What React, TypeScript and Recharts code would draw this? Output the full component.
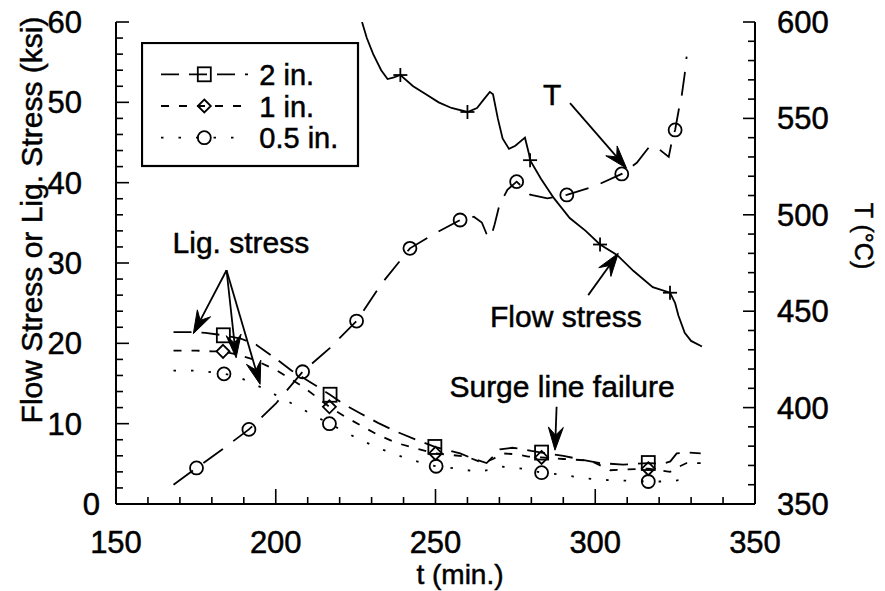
import React from 'react';
import { ComposedChart, Line, XAxis, YAxis, ReferenceLine, ReferenceDot, Legend } from 'recharts';

const FONT = '"Liberation Sans", Arial, Helvetica, sans-serif';

// ---- Flow stress (ksi) vs t (min.) ----
const flowTime = [227, 228.5, 230.5, 233, 235, 237, 239, 243, 247, 251, 255, 260, 263, 265, 267, 268, 269.5, 271, 273, 275, 278, 279.3, 279.6, 283, 287, 292, 297, 301.5, 306.8, 312, 318, 323.4, 325, 326, 328, 330, 333.4];
const flowStress = [60, 58, 56, 54, 52.9, 53.1, 53.4, 52, 51, 50, 49.3, 48.8, 49.3, 50.3, 51.3, 51, 48, 45.5, 44.2, 44.6, 45.6, 43.5, 42.8, 40.5, 38.1, 35.6, 34, 32.3, 31, 29, 27, 26.3, 25, 23.5, 21.3, 20.3, 19.6];
const flowMarkerTimes = [239, 260, 279.6, 301.5, 323.4];

// ---- Temperature T (°C) vs t ----
const tempTime = [168, 175.2, 183, 191.6, 200, 208.4, 217, 225.3, 233, 242, 250, 257.7, 262, 264.5, 266, 267.3, 268.5, 270, 272.5, 275.4, 279.6, 285, 291.1, 300, 308.3, 313, 317.1, 320, 323, 324.2, 325, 326.2, 327, 328, 328.6];
const tempC = [360, 368.7, 378, 388.7, 402, 418.6, 431, 444.9, 464, 482.6, 490.5, 497.3, 499, 496, 490, 488, 495, 505, 513, 517.2, 510.5, 508.5, 510.3, 515, 521.2, 527, 535.7, 534, 530, 540, 544, 555, 561, 573, 582];
const tempMarkerTimes = [175.2, 191.6, 208.4, 225.3, 242, 257.7, 275.4, 291.1, 308.3, 325];

// ---- Ligament stress (ksi) ----
const lig2Time = [168, 174, 178, 183.6, 189, 194, 200, 205, 210.7, 217, 221, 226.4, 232, 237.8, 244, 249.8, 257.7, 262, 266, 268, 270.2, 274, 276.4, 280, 283.2, 290, 296, 301.5, 308.7, 316.6, 321, 323.5, 325.5, 329, 333];
const lig2Stress = [21.4, 21.4, 21.3, 21.0, 20.6, 19.8, 18.1, 16.6, 15.2, 13.6, 12.5, 11.3, 10.1, 9.0, 8.0, 7.1, 6.3, 5.6, 5.1, 5.9, 6.8, 7.0, 6.9, 6.6, 6.4, 6.0, 5.5, 5.1, 4.9, 5.1, 5.0, 5.3, 6.3, 6.4, 6.3];
const lig2MarkerTimes = [183.6, 217, 249.8, 283.2, 316.6];

const lig1Time = [168, 175, 180, 183.5, 188, 193, 200, 208.5, 216.8, 222, 227.4, 232, 237.8, 244, 250, 255, 259.7, 264.9, 268, 271, 275, 279, 283.2, 290, 298.5, 304.7, 310, 316.6, 323.4, 326, 328.6, 333];
const lig1Stress = [19.1, 19.1, 19.0, 19.0, 18.6, 18.0, 16.7, 14.6, 12.1, 10.8, 9.6, 8.6, 7.6, 6.9, 6.3, 6.1, 5.9, 5.1, 5.6, 6.3, 6.2, 5.9, 5.8, 5.6, 5.4, 4.2, 4.3, 4.4, 4.0, 4.6, 5.1, 5.1];
const lig1MarkerTimes = [183.5, 216.8, 250, 283.2, 316.6];

const lig05Time = [168, 175, 180, 183.8, 187.7, 194, 200.8, 207, 212, 216.8, 222, 226.4, 233.2, 239.4, 245, 250.2, 256.6, 263.7, 271, 277, 283.2, 290.5, 296.3, 302.6, 310, 316.6, 323.4, 330];
const lig05Stress = [16.6, 16.6, 16.4, 16.2, 15.9, 14.8, 13.4, 12.1, 11.0, 10.0, 8.9, 8.0, 6.8, 5.9, 5.2, 4.7, 4.4, 4.0, 4.65, 4.4, 3.9, 3.6, 3.2, 3.0, 2.9, 2.8, 2.8, 3.2];
const lig05MarkerTimes = [183.8, 216.8, 250.2, 283.2, 316.6];

// ---- Axis ticks ----
const xMajorTicks = [150, 200, 250, 300, 350];
const yLeftMajorTicks = [0, 10, 20, 30, 40, 50, 60];
const yRightMajorTicks = [350, 400, 450, 500, 550, 600];
const range = (a: number, b: number, s: number) => { const r: number[] = []; for (let v = a; v <= b + 1e-9; v += s) r.push(Math.round(v * 100) / 100); return r; };
const xTicks = range(150, 350, 10);
const yLeftTicks = range(0, 60, 2);
const yRightTicks = range(350, 600, 10);

// ---- Annotations (in data units of t / left axis) ----
const annotationTexts = [
  { label: 'Lig. stress', t: 189.1, v: 31.2 },
  { label: 'T', t: 286.5, v: 49.7 },
  { label: 'Flow stress', t: 290.8, v: 22.0 },
  { label: 'Surge line failure', t: 289.6, v: 13.3 },
];
const annotationArrows = [
  { from: [184.6, 29.1], to: [174.2, 21.2] },
  { from: [184.6, 29.1], to: [187.6, 18.2] },
  { from: [184.6, 29.1], to: [195.1, 14.9] },
  { from: [292.1, 49.9], to: [309.8, 41.8] },
  { from: [297.8, 26.0], to: [307.2, 31.2] },
  { from: [287.9, 12.1], to: [287.4, 6.7] },
];

const zip = (ts: number[], vs: number[], key: string) => ts.map((t, i) => ({ t, [key]: vs[i] }));
const flowData = zip(flowTime, flowStress, 'v');
const tempData = zip(tempTime, tempC, 'T');
const lig2Data = zip(lig2Time, lig2Stress, 'v');
const lig1Data = zip(lig1Time, lig1Stress, 'v');
const lig05Data = zip(lig05Time, lig05Stress, 'v');

type MarkerKind = 'plus' | 'circle' | 'square' | 'diamond';

const marker = (kind: MarkerKind, cx: number, cy: number, key?: string) => {
  const sw = 1.8;
  if (kind === 'plus') return (
    <g key={key}>
      <line x1={cx - 7} x2={cx + 7} y1={cy} y2={cy} stroke="#000" strokeWidth={sw} />
      <line x1={cx} x2={cx} y1={cy - 7} y2={cy + 7} stroke="#000" strokeWidth={sw} />
    </g>
  );
  if (kind === 'circle') return <circle key={key} cx={cx} cy={cy} r={6.5} fill="none" stroke="#000" strokeWidth={sw} />;
  if (kind === 'square') return <rect key={key} x={cx - 6.5} y={cy - 7} width={13} height={14} fill="none" stroke="#000" strokeWidth={sw} />;
  return <polygon key={key} points={`${cx},${cy - 6.5} ${cx + 6.5},${cy} ${cx},${cy + 6.5} ${cx - 6.5},${cy}`} fill="none" stroke="#000" strokeWidth={sw} />;
};

const makeDot = (times: number[], kind: MarkerKind) => (props: any) => {
  const { cx, cy, payload, index } = props;
  if (!payload || !times.includes(payload.t) || cx == null || cy == null) return <g key={`e${index}`} />;
  return marker(kind, cx, cy, `m${index}`);
};

const ligSeries = [
  { name: '2 in.', data: lig2Data, marks: lig2MarkerTimes, dash: '18 10', marker: 'square' as MarkerKind },
  { name: '1 in.', data: lig1Data, marks: lig1MarkerTimes, dash: '8 10', marker: 'diamond' as MarkerKind },
  { name: '0.5 in.', data: lig05Data, marks: lig05MarkerTimes, dash: '2.5 15', marker: 'circle' as MarkerKind },
];

const txt = { fontFamily: FONT, fontSize: 30, fill: '#000', stroke: '#000', strokeWidth: 0.5 };
const tickTxt = { ...txt, fontSize: 31 };

const BottomTick = (p: any) => {
  const { x, y, payload } = p;
  const major = xMajorTicks.includes(payload.value);
  return (
    <g>
      <line x1={x} x2={x} y1={y} y2={y - (major ? 15 : 7)} stroke="#000" strokeWidth={1.6} />
      {major && <text x={x} y={y + 49} textAnchor="middle" {...tickTxt}>{payload.value}</text>}
    </g>
  );
};
const TopTick = (p: any) => {
  const { x, y, payload } = p;
  const major = xMajorTicks.includes(payload.value);
  return <line x1={x} x2={x} y1={y} y2={y + (major ? 13 : 7)} stroke="#000" strokeWidth={1.6} />;
};
const LeftTick = (p: any) => {
  const { x, y, payload } = p;
  const major = yLeftMajorTicks.includes(payload.value);
  const gap = String(payload.value).length === 1 ? 16 : 34;
  return (
    <g>
      <line x1={x} x2={x + (major ? 13 : 7)} y1={y} y2={y} stroke="#000" strokeWidth={1.6} />
      {major && <text x={x - gap} y={y + 11} textAnchor="end" {...tickTxt}>{payload.value}</text>}
    </g>
  );
};
const RightTick = (p: any) => {
  const { x, y, payload } = p;
  const major = yRightMajorTicks.includes(payload.value);
  return (
    <g>
      <line x1={x} x2={x - (major ? 12 : 7)} y1={y} y2={y} stroke="#000" strokeWidth={1.6} />
      {major && <text x={x + 22} y={y + 11} textAnchor="start" {...tickTxt}>{payload.value}</text>}
    </g>
  );
};

const Arrow = (p: any) => {
  const { x1, y1, x2, y2 } = p;
  const dx = x2 - x1, dy = y2 - y1;
  const len = Math.sqrt(dx * dx + dy * dy) || 1;
  const ux = dx / len, uy = dy / len;
  const nx = -uy, ny = ux;
  const L = 23, W = 7.5, N = 15;
  const bx = x2 - L * ux, by = y2 - L * uy;
  const mx = x2 - N * ux, my = y2 - N * uy;
  return (
    <g>
      <line x1={x1} y1={y1} x2={mx} y2={my} stroke="#000" strokeWidth={1.8} />
      <polygon points={`${x2},${y2} ${bx + W * nx},${by + W * ny} ${mx},${my} ${bx - W * nx},${by - W * ny}`} fill="#000" stroke="#000" strokeWidth={1} />
    </g>
  );
};

const makeText = (label: string) => (p: any) => (
  <text x={p.cx} y={p.cy} textAnchor="middle" {...txt}>{label}</text>
);

const LegendBox = () => (
  <svg width={219} height={126} style={{ display: 'block' }}>
    <rect x={1} y={1} width={216} height={123} fill="#fff" stroke="#000" strokeWidth={2.2} />
    {ligSeries.map((s, i) => {
      const y = 32.3 + i * 31.7;
      return (
        <g key={s.name}>
          <line x1={20} x2={107} y1={y} y2={y} stroke="#000" strokeWidth={1.8} strokeDasharray={s.dash} />
          {marker(s.marker, 63.3, y)}
          <text x={118.3} y={y + 10.5} fontFamily={FONT} fontSize={29} fill="#000" stroke="#000" strokeWidth={0.5}>{s.name}</text>
        </g>
      );
    })}
  </svg>
);

const LeftTitle = (p: any) => {
  const vb = p.viewBox || { x: 0, y: 22 };
  const cx = vb.x + 31, cy = vb.y + 198;
  return <text x={cx} y={cy} transform={`rotate(-90 ${cx} ${cy})`} textAnchor="middle" dominantBaseline="central" {...txt}>Flow Stress or Lig. Stress (ksi)</text>;
};
const RightTitle = (p: any) => {
  const vb = p.viewBox || { x: 755, y: 22 };
  const cx = vb.x + 109, cy = vb.y + 214;
  return <text x={cx} y={cy} transform={`rotate(90 ${cx} ${cy})`} textAnchor="middle" dominantBaseline="central" {...txt} fontSize={25}>T (°C)</text>;
};
const BottomTitle = (p: any) => {
  const vb = p.viewBox || { x: 116, y: 504 };
  return <text x={vb.x + 344} y={vb.y + 80} textAnchor="middle" {...txt} fontSize={28}>t (min.)</text>;
};

export default function App() {
  return (
    <div style={{ position: 'absolute', left: 0, top: 0, background: '#fff' }}>
      <ComposedChart width={885} height={591} margin={{ top: 22, right: 0, bottom: 0, left: 0 }}>
        <XAxis xAxisId="b" type="number" dataKey="t" domain={[150, 350]} ticks={xTicks} interval={0} height={87}
          tick={BottomTick} tickLine={false} tickSize={0} tickMargin={0} axisLine={{ stroke: '#000', strokeWidth: 2 }}
          allowDataOverflow label={BottomTitle} />
        <XAxis xAxisId="top" orientation="top" type="number" dataKey="t" domain={[150, 350]} ticks={xTicks} interval={0} height={0}
          tick={TopTick} tickLine={false} tickSize={0} tickMargin={0} axisLine={{ stroke: '#000', strokeWidth: 2 }} allowDataOverflow />
        <YAxis yAxisId="left" type="number" domain={[0, 60]} ticks={yLeftTicks} interval={0} width={116}
          tick={LeftTick} tickLine={false} tickSize={0} tickMargin={0} axisLine={{ stroke: '#000', strokeWidth: 2 }}
          allowDataOverflow label={LeftTitle} />
        <YAxis yAxisId="right" orientation="right" type="number" domain={[350, 600]} ticks={yRightTicks} interval={0} width={130}
          tick={RightTick} tickLine={false} tickSize={0} tickMargin={0} axisLine={{ stroke: '#000', strokeWidth: 2 }}
          allowDataOverflow label={RightTitle} />

        <Line xAxisId="b" yAxisId="left" data={flowData} dataKey="v" type="linear" stroke="#000" strokeWidth={1.8}
          dot={makeDot(flowMarkerTimes, 'plus')} activeDot={false} isAnimationActive={false} name="Flow stress" legendType="none" />
        <Line xAxisId="b" yAxisId="right" data={tempData} dataKey="T" type="linear" stroke="#000" strokeWidth={1.8}
          strokeDasharray="24 13" dot={makeDot(tempMarkerTimes, 'circle')} activeDot={false} isAnimationActive={false} name="T" legendType="none" />
        {ligSeries.map((s) => (
          <Line key={s.name} xAxisId="b" yAxisId="left" data={s.data} dataKey="v" type="linear" stroke="#000" strokeWidth={1.8}
            strokeDasharray={s.dash} dot={makeDot(s.marks, s.marker)} activeDot={false} isAnimationActive={false} name={s.name} />
        ))}

        {annotationArrows.map((a, i) => (
          <ReferenceLine key={`a${i}`} xAxisId="b" yAxisId="left" segment={[{ x: a.from[0], y: a.from[1] }, { x: a.to[0], y: a.to[1] }]}
            shape={Arrow} ifOverflow="visible" />
        ))}
        {annotationTexts.map((a, i) => (
          <ReferenceDot key={`t${i}`} xAxisId="b" yAxisId="left" x={a.t} y={a.v} r={0} shape={makeText(a.label)} ifOverflow="visible" />
        ))}

        <Legend content={LegendBox} layout="vertical" align="center" verticalAlign="middle"
          wrapperStyle={{ left: 141, top: 42, width: 219, height: 126 }} />
      </ComposedChart>
    </div>
  );
}
